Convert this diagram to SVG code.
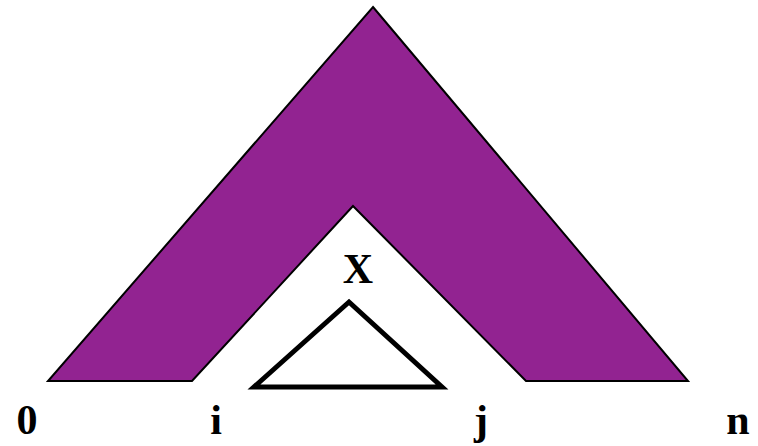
<svg xmlns="http://www.w3.org/2000/svg" width="758" height="446" viewBox="0 0 758 446">
<style>
.lbl{font-family:"Liberation Serif","Times New Roman",serif;font-weight:bold;font-size:42px;fill:#000;text-anchor:middle}
</style>
<rect width="758" height="446" fill="#fff"/>
<g id="outer">
<polygon points="373,7 688,381 526,381 353,206 192,381 48,381" fill="#922391" stroke="#000" stroke-width="2" stroke-linejoin="miter"/>
</g>
<g id="inner">
<polygon points="349,302 442,387 254,387" fill="#fff" stroke="#000" stroke-width="5" stroke-linejoin="miter"/>
</g>
<g id="labels">
<text class="lbl" x="358" y="283">X</text>
<text class="lbl" x="27" y="434">0</text>
<text class="lbl" x="216" y="434">i</text>
<text class="lbl" x="481" y="434">j</text>
<text class="lbl" x="738" y="434">n</text>
</g>
<g id="connectors"/>
</svg>
